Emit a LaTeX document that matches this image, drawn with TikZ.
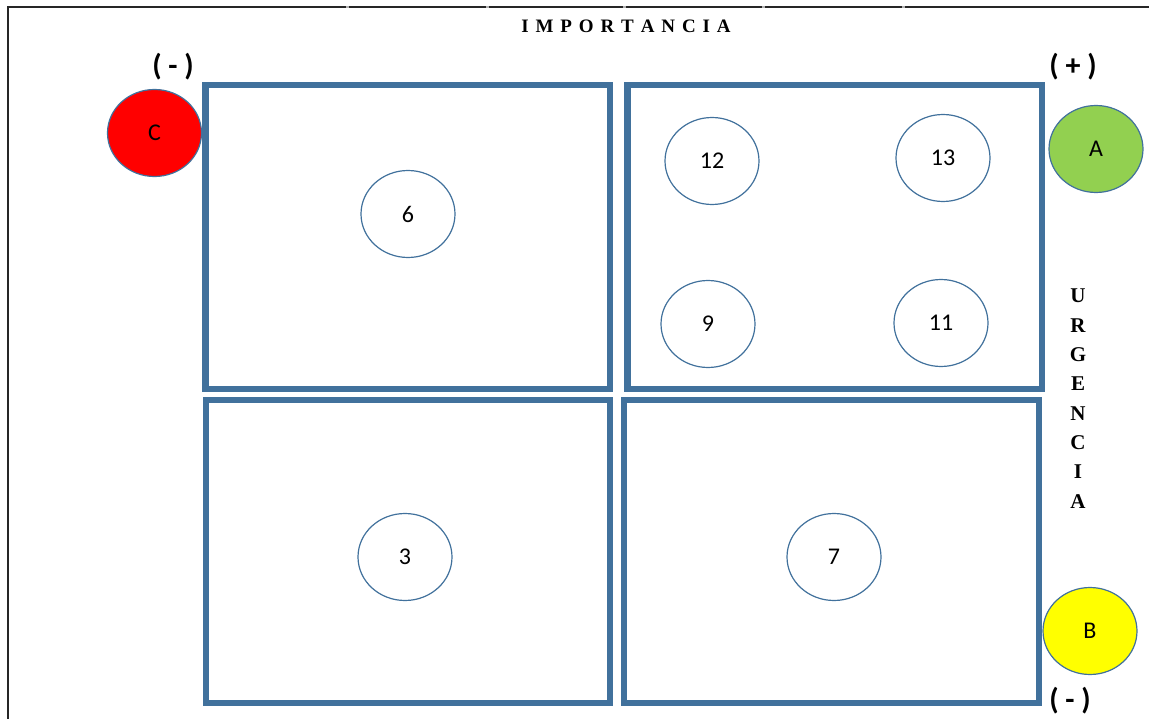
\documentclass[tikz,border=0pt]{standalone}
\usepackage{fontspec}
\setmainfont{Carlito}
\newfontfamily\serifb{Liberation Serif}[BoldFont={* Bold}]
\usetikzlibrary{shapes.geometric}
\definecolor{qblue}{RGB}{65,113,156}
\definecolor{qgreen}{RGB}{146,208,80}
\definecolor{qred}{RGB}{255,0,0}
\definecolor{qyellow}{RGB}{255,255,0}
\tikzset{
  quad/.style={draw=qblue, line width=6.5pt},
  item/.style={ellipse, draw=qblue, line width=1.2pt, fill=white, minimum width=94pt, minimum height=87pt, inner sep=0pt, font=\fontsize{24}{24}\selectfont},
  sign/.style={font=\fontsize{30}{30}\selectfont\bfseries, inner sep=0pt},
  axis/.style={font=\fontsize{19}{19}\selectfont\serifb\bfseries, inner sep=0pt},
  vaxis/.style={font=\fontsize{21}{21}\selectfont\serifb\bfseries, inner sep=0pt},
  frame/.style={draw=black!85, line width=1.5pt}
}
\newcommand{\ls}{\kern6.9pt}
\begin{document}
\begin{tikzpicture}[x=1pt,y=-1pt]
\useasboundingbox (0,0) rectangle (1149,719);
% table frame
\coordinate (f0) at (8,7);
\coordinate (f1) at (346,7);
\coordinate (f2) at (349,7);
\coordinate (f3) at (486,7);
\coordinate (f4) at (489,7);
\coordinate (f5) at (623,7);
\coordinate (f6) at (626,7);
\coordinate (f7) at (762,7);
\coordinate (f8) at (765,7);
\coordinate (f9) at (902,7);
\coordinate (f10) at (905,7);
\coordinate (f11) at (1149,7);
\coordinate (fb) at (8,719);
\draw[frame] (fb) -- (f0) -- (f1) (f2) -- (f3) (f4) -- (f5) (f6) -- (f7) (f8) -- (f9) (f10) -- (f11);
\draw[black!30, line width=1.5pt] (f1) -- (f2) (f3) -- (f4) (f5) -- (f6) (f7) -- (f8) (f9) -- (f10);
% quadrants
\draw[quad] (205.5,85) rectangle (610,389);
\draw[quad] (627.5,85) rectangle (1042,389);
\draw[quad] (206,400) rectangle (610,703);
\draw[quad] (624,400) rectangle (1039,703);
% items
\node[item] (n6) at (408,214) {6};
\node[item] (n12) at (712,161) {12};
\node[item] (n13) at (943,158) {13};
\node[item] (n9) at (708,324) {9};
\node[item] (n11) at (941,323) {11};
\node[item] (n3) at (405,557) {3};
\node[item] (n7) at (834,557) {7};
\node[item, fill=qred] (c) at (154.5,133) {C};
\node[item, fill=qgreen] (a) at (1096,149) {A};
\node[item, fill=qyellow] (b) at (1090,631) {B};
% labels
\node[axis] (imp) at (626,26) {I\ls M\ls P\ls O\ls R\ls T\ls A\ls N\ls C\ls I\ls A};
\node[sign] (sl) at (173,67) {( - )};
\node[sign] (sr) at (1073,67) {( + )};
\node[sign] (sb) at (1070,701) {( - )};
\foreach \l [count=\i from 0] in {U,R,G,E,N,C,I,A}{
  \node[vaxis] (u\i) at (1078,{296+29.3*\i}) {\l};
}
\end{tikzpicture}
\end{document}
